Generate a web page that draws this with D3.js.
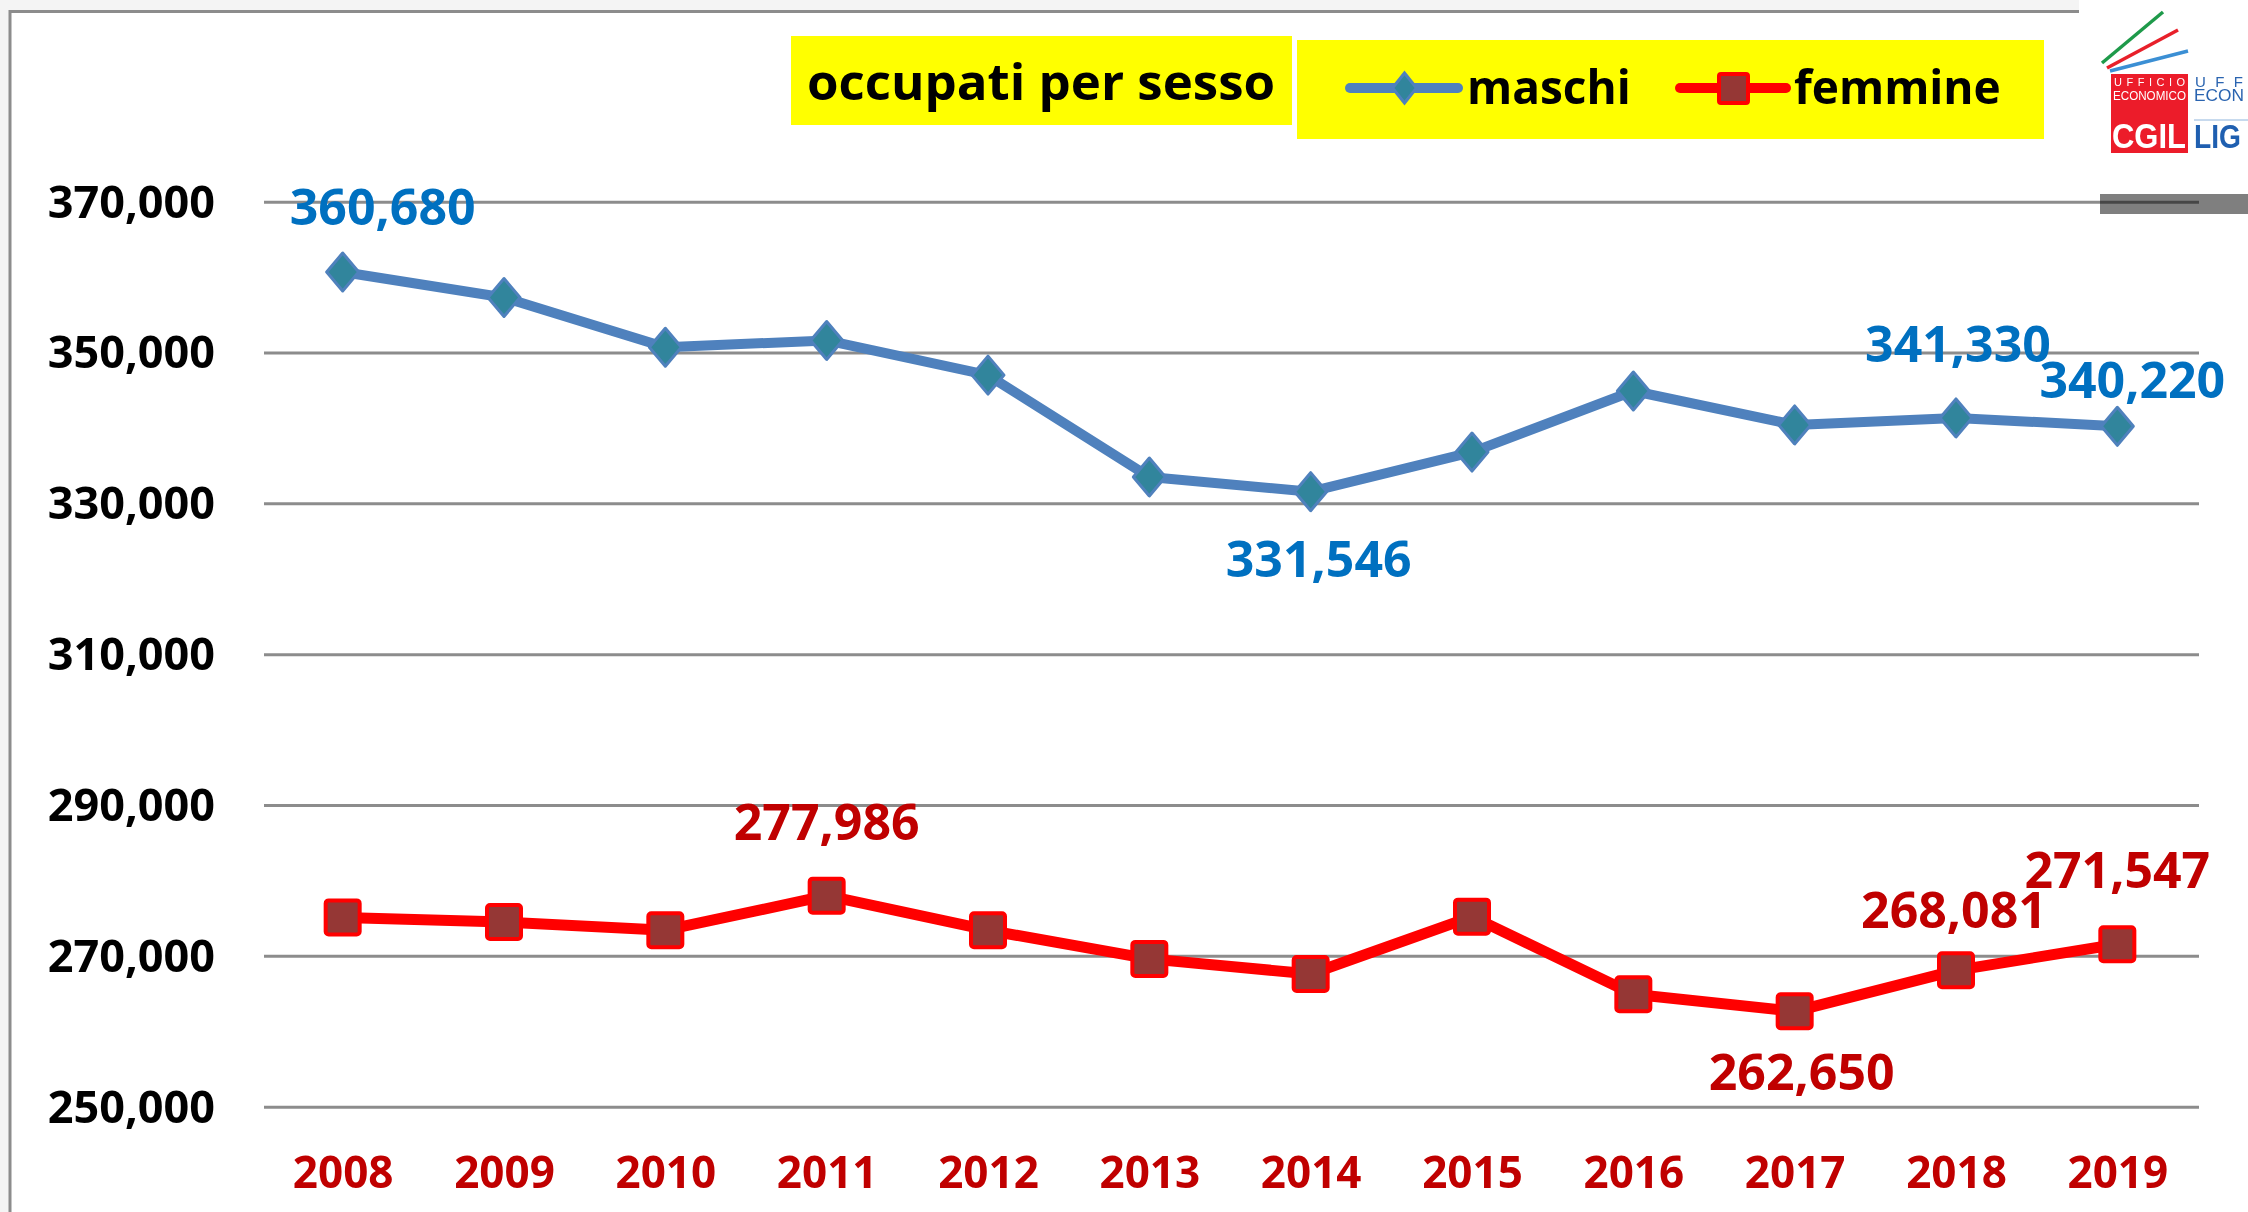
<!DOCTYPE html>
<html>
<head>
<meta charset="utf-8">
<script src="https://cdn.jsdelivr.net/npm/d3@7"></script>
<style>
  html, body { margin: 0; padding: 0; background: #f4f4f4; }
  svg { display: block; }
</style>
</head>
<body>
<div id="chart"></div>
<script>
// data
const years = ['2008', '2009', '2010', '2011', '2012', '2013', '2014', '2015', '2016', '2017', '2018', '2019'];
const maschi = [360680, 357300, 350700, 351600, 347000, 333500, 331546, 336800, 344900, 340400, 341330, 340220];
const femmine = [275100, 274500, 273400, 277986, 273400, 269600, 267600, 275200, 264900, 262650, 268081, 271547];
const yTicks = [250000, 270000, 290000, 310000, 330000, 350000, 370000];
const titleText = 'occupati per sesso';
const seriesNames = ['maschi', 'femmine'];
// which points carry a value label
const maschiLabelIdx = [0, 6, 10, 11];
const femmineLabelIdx = [3, 9, 10, 11];

// label placement (offset from the point: dx to text centre, dy to baseline)
const labelOffsets = {
  maschi: { 0: [40, -47], 6: [8, 85], 10: [2, -56], 11: [15, -28] },
  femmine: { 3: [0, -56], 9: [7, 79], 10: [-2, -42], 11: [0, -56] }
};

const W = 2248, H = 1212;
const FONT = "'Open Sans', 'Liberation Sans', sans-serif";
const blue = '#4f81bd', teal = '#31859c', red = '#ff0000', brown = '#953735';
const lblBlue = '#0070c0', lblRed = '#c00000';

const svg = d3.select('#chart').append('svg')
  .attr('width', W)
  .attr('height', H);

// frame: light strip outside, white inside
svg.append('rect').attr('x', 0).attr('y', 0).attr('width', W).attr('height', H).attr('fill', '#f4f4f4');
svg.append('rect')
  .attr('x', 10).attr('y', 11.5).attr('width', W + 20).attr('height', H + 20)
  .attr('fill', '#fff').attr('stroke', '#8c8c8c').attr('stroke-width', 3);

// logo area (white) and grey bar under it
svg.append('rect').attr('x', 2079).attr('y', 0).attr('width', W - 2079).attr('height', 192).attr('fill', '#fff');
svg.append('rect').attr('x', 2100).attr('y', 194).attr('width', W - 2100).attr('height', 20).attr('fill', '#7f7f7f');

const plot = { left: 262, right: 2198, top: 201.7, bottom: 1106.7 };

const x = d3.scalePoint()
  .domain(years)
  .range([plot.left, plot.right])
  .padding(0.5);

const y = d3.scaleLinear()
  .domain([250000, 370000])
  .range([plot.bottom, plot.top]);

// y axis + gridlines
const yAxis = svg.append('g')
  .attr('transform', `translate(${plot.left},0)`)
  .call(d3.axisLeft(y)
    .tickValues(yTicks)
    .tickSize(-(plot.right - plot.left + 1))
    .tickPadding(47)
    .tickFormat(d3.format(',')));
yAxis.select('.domain').remove();
yAxis.selectAll('line')
  .attr('stroke', '#8c8c8c')
  .attr('stroke-width', 3)
  .attr('x1', 2)
  .style('mix-blend-mode', 'multiply');
yAxis.selectAll('text')
  .attr('font-family', FONT)
  .attr('font-weight', 700)
  .attr('font-size', 45)
  .attr('fill', '#000')
  .attr('dy', '0.34em');

// x axis labels
const xAxis = svg.append('g')
  .attr('transform', `translate(0,${plot.bottom})`)
  .call(d3.axisBottom(x).tickSize(0).tickPadding(50));
xAxis.select('.domain').remove();
xAxis.selectAll('text')
  .attr('font-family', FONT)
  .attr('font-weight', 700)
  .attr('font-size', 44)
  .attr('fill', lblRed);

const line = d3.line()
  .x((d, i) => x(years[i]))
  .y(d => y(d));

// maschi
svg.append('path')
  .datum(maschi)
  .attr('d', line)
  .attr('fill', 'none')
  .attr('stroke', blue)
  .attr('stroke-width', 10)
  .attr('stroke-linejoin', 'round');

const dw = 16, dh = 19;
svg.append('g').selectAll('path')
  .data(maschi)
  .join('path')
  .attr('transform', (d, i) => `translate(${x(years[i])},${y(d)})`)
  .attr('d', `M0,${-dh}L${dw},0L0,${dh}L${-dw},0Z`)
  .attr('fill', teal)
  .attr('stroke', blue)
  .attr('stroke-width', 3)
  .attr('stroke-linejoin', 'round');

// femmine
svg.append('path')
  .datum(femmine)
  .attr('d', line)
  .attr('fill', 'none')
  .attr('stroke', red)
  .attr('stroke-width', 11)
  .attr('stroke-linejoin', 'round');

const sq = 34;
svg.append('g').selectAll('rect')
  .data(femmine)
  .join('rect')
  .attr('x', (d, i) => x(years[i]) - sq / 2)
  .attr('y', d => y(d) - sq / 2)
  .attr('width', sq)
  .attr('height', sq)
  .attr('rx', 3)
  .attr('fill', brown)
  .attr('stroke', red)
  .attr('stroke-width', 4);

// value labels
const fmt = d3.format(',');
function addLabels(values, idx, offsets, color) {
  svg.append('g').selectAll('text')
    .data(idx)
    .join('text')
    .attr('x', i => x(years[i]) + offsets[i][0])
    .attr('y', i => y(values[i]) + offsets[i][1])
    .attr('text-anchor', 'middle')
    .attr('font-family', FONT)
    .attr('font-weight', 700)
    .attr('font-size', 50)
    .attr('fill', color)
    .text(i => fmt(values[i]));
}
addLabels(maschi, maschiLabelIdx, labelOffsets.maschi, lblBlue);
addLabels(femmine, femmineLabelIdx, labelOffsets.femmine, lblRed);

// title box
svg.append('rect').attr('x', 791).attr('y', 36).attr('width', 501).attr('height', 89).attr('fill', '#ffff00');
svg.append('text')
  .attr('x', 1041).attr('y', 100)
  .attr('text-anchor', 'middle')
  .attr('font-family', FONT).attr('font-weight', 700).attr('font-size', 51)
  .attr('fill', '#000')
  .text(titleText);

// legend box
svg.append('rect').attr('x', 1297).attr('y', 40).attr('width', 747).attr('height', 99).attr('fill', '#ffff00');
const leg = svg.append('g');
leg.append('line').attr('x1', 1350).attr('x2', 1458).attr('y1', 88).attr('y2', 88)
  .attr('stroke', blue).attr('stroke-width', 10).attr('stroke-linecap', 'round');
leg.append('path')
  .attr('transform', 'translate(1404.5,88)')
  .attr('d', 'M0,-15L12,0L0,15L-12,0Z')
  .attr('fill', teal).attr('stroke', blue).attr('stroke-width', 3);
leg.append('text').attr('x', 1467).attr('y', 104)
  .attr('font-family', FONT).attr('font-weight', 700).attr('font-size', 46)
  .text(seriesNames[0]);
leg.append('line').attr('x1', 1680).attr('x2', 1786).attr('y1', 88).attr('y2', 88)
  .attr('stroke', red).attr('stroke-width', 10).attr('stroke-linecap', 'round');
leg.append('rect').attr('x', 1719).attr('y', 74).attr('width', 29).attr('height', 29).attr('rx', 2)
  .attr('fill', brown).attr('stroke', red).attr('stroke-width', 4);
leg.append('text').attr('x', 1794).attr('y', 104)
  .attr('font-family', FONT).attr('font-weight', 700).attr('font-size', 46)
  .text(seriesNames[1]);

// logo (its right-hand lettering is cut by the picture edge in the reference)
const logo = svg.append('g');
logo.append('line').attr('x1', 2102).attr('y1', 63).attr('x2', 2163).attr('y2', 12)
  .attr('stroke', '#1e9a4a').attr('stroke-width', 3.5);
logo.append('line').attr('x1', 2107).attr('y1', 68).attr('x2', 2178).attr('y2', 30)
  .attr('stroke', '#e8202a').attr('stroke-width', 3.5);
logo.append('line').attr('x1', 2110).attr('y1', 71).attr('x2', 2188).attr('y2', 51)
  .attr('stroke', '#3b8fd4').attr('stroke-width', 3.5);
logo.append('rect').attr('x', 2111).attr('y', 74).attr('width', 77).attr('height', 79).attr('fill', '#ec1c2a');
logo.append('text').attr('x', 2114).attr('y', 86).attr('textLength', 71).attr('lengthAdjust', 'spacing')
  .attr('font-family', "'Liberation Sans', sans-serif").attr('font-size', 11).attr('fill', '#fff').text('UFFICIO');
logo.append('text').attr('x', 2113).attr('y', 100).attr('textLength', 73).attr('lengthAdjust', 'spacingAndGlyphs')
  .attr('font-family', "'Liberation Sans', sans-serif").attr('font-size', 13).attr('fill', '#fff').text('ECONOMICO');
logo.append('text').attr('x', 2112).attr('y', 148).attr('textLength', 74).attr('lengthAdjust', 'spacingAndGlyphs')
  .attr('font-family', "'Liberation Sans', sans-serif").attr('font-weight', 700).attr('font-size', 35).attr('fill', '#fff').text('CGIL');
logo.append('text').attr('x', 2195).attr('y', 87).attr('textLength', 48).attr('lengthAdjust', 'spacing')
  .attr('font-family', "'Liberation Sans', sans-serif").attr('font-size', 15).attr('fill', '#2a64b0').text('UFF');
logo.append('text').attr('x', 2194).attr('y', 101).attr('textLength', 50).attr('lengthAdjust', 'spacingAndGlyphs')
  .attr('font-family', "'Liberation Sans', sans-serif").attr('font-size', 17).attr('fill', '#2a64b0').text('ECON');
logo.append('line').attr('x1', 2194).attr('x2', W).attr('y1', 120).attr('y2', 120)
  .attr('stroke', '#8fb4dc').attr('stroke-width', 1);
logo.append('text').attr('x', 2194).attr('y', 148).attr('textLength', 47).attr('lengthAdjust', 'spacingAndGlyphs')
  .attr('font-family', "'Liberation Sans', sans-serif").attr('font-weight', 700).attr('font-size', 34).attr('fill', '#1f5fb0').text('LIG');
</script>
</body>
</html>
